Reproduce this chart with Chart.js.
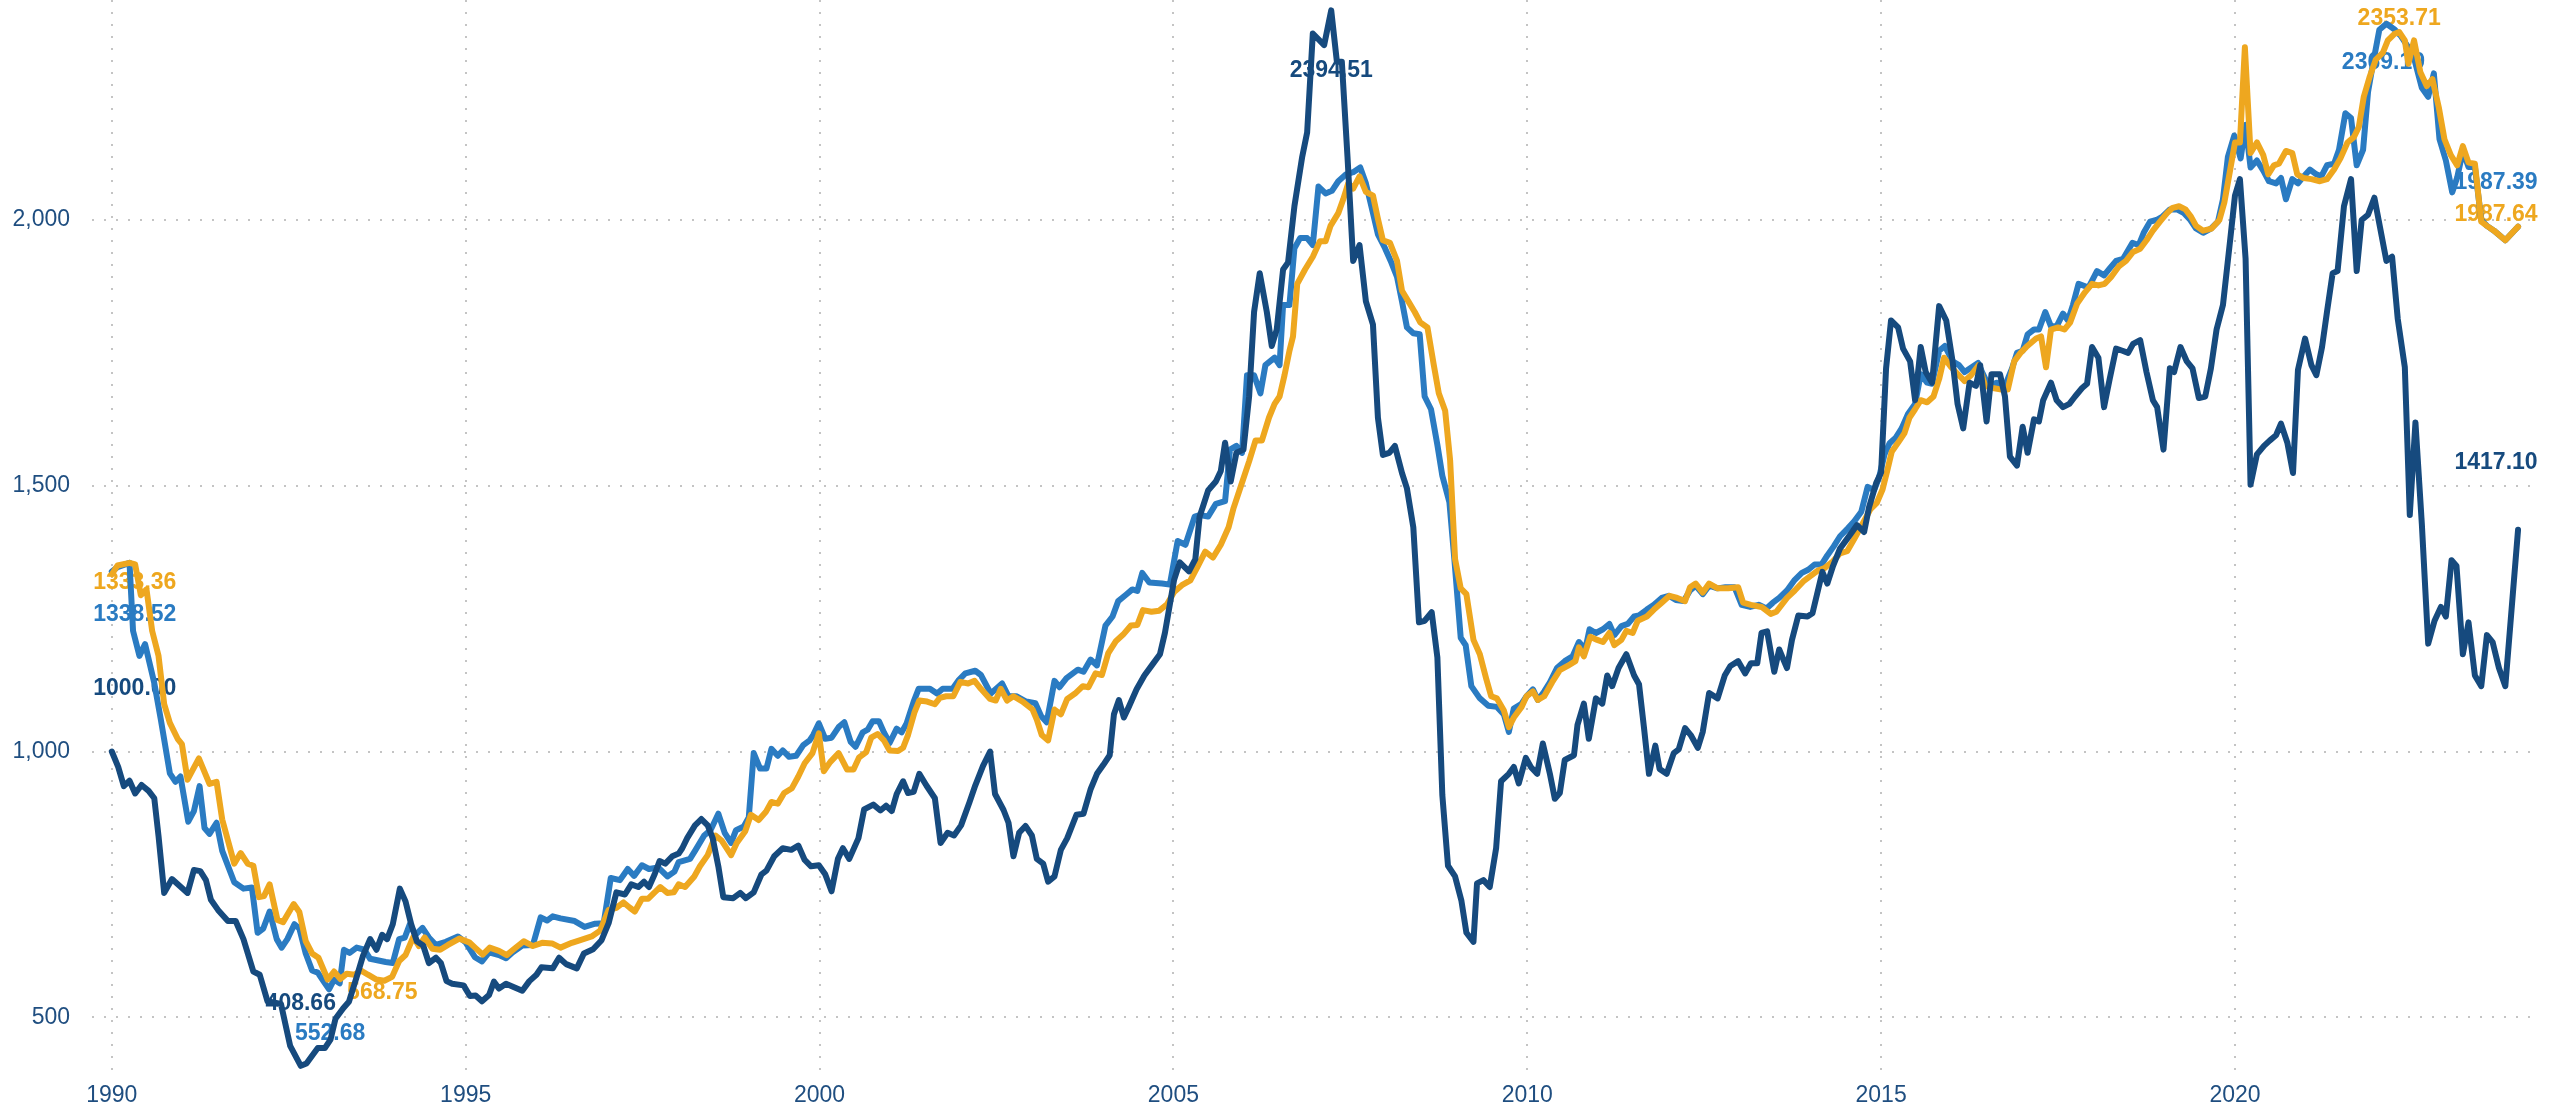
<!DOCTYPE html>
<html>
<head>
<meta charset="utf-8">
<script src="https://cdn.jsdelivr.net/npm/chart.js@4.4.1/dist/chart.umd.min.js"></script>
<style>
  html, body { margin: 0; padding: 0; background: #fff; }
  #wrap { width: 2562px; height: 1108px; }
</style>
</head>
<body>
<div id="wrap"><canvas id="chart"></canvas></div>
<script>
// tick labels
const xTicks = [1990, 1995, 2000, 2005, 2010, 2015, 2020];
const yTicks = [500, 1000, 1500, 2000];

// [year, value]
const darkBlue = [
  [1990.00, 1000.00], [1990.09, 971], [1990.17, 935], [1990.25, 945], [1990.33, 921], [1990.42, 937],
  [1990.52, 926], [1990.60, 912], [1990.66, 841], [1990.74, 734], [1990.85, 760], [1990.96, 747],
  [1991.07, 734], [1991.16, 777], [1991.25, 775], [1991.33, 758], [1991.40, 721], [1991.50, 702],
  [1991.64, 681], [1991.75, 681], [1991.86, 647], [1992.00, 586], [1992.09, 580], [1992.20, 530],
  [1992.39, 525], [1992.52, 446], [1992.67, 408.66], [1992.75, 413], [1992.91, 442], [1993.01, 442],
  [1993.09, 458], [1993.16, 497], [1993.27, 517], [1993.35, 529], [1993.46, 576], [1993.55, 616],
  [1993.65, 647], [1993.74, 627], [1993.82, 655], [1993.89, 647], [1993.97, 675], [1994.07, 742],
  [1994.15, 718], [1994.23, 675], [1994.31, 643], [1994.40, 635], [1994.48, 602], [1994.58, 612],
  [1994.65, 602], [1994.73, 568], [1994.81, 563], [1994.97, 560], [1995.06, 540], [1995.14, 541],
  [1995.23, 530], [1995.33, 542], [1995.40, 567], [1995.47, 554], [1995.57, 563], [1995.66, 558],
  [1995.80, 550], [1995.90, 568], [1996.00, 580], [1996.07, 594], [1996.23, 592], [1996.32, 612],
  [1996.42, 600], [1996.57, 592], [1996.67, 620], [1996.80, 628], [1996.92, 645], [1997.02, 677],
  [1997.13, 735], [1997.25, 731], [1997.34, 750], [1997.44, 745], [1997.52, 755], [1997.59, 745],
  [1997.67, 769], [1997.74, 794], [1997.82, 789], [1997.92, 803], [1998.01, 808], [1998.06, 818],
  [1998.13, 837], [1998.24, 861], [1998.33, 873], [1998.42, 861], [1998.49, 837], [1998.57, 784],
  [1998.64, 726], [1998.78, 724], [1998.88, 734], [1998.96, 724], [1999.07, 735], [1999.18, 769],
  [1999.25, 776], [1999.36, 803], [1999.48, 818], [1999.60, 815], [1999.70, 823], [1999.79, 796],
  [1999.88, 784], [1999.99, 786], [2000.08, 769], [2000.17, 737], [2000.26, 798], [2000.33, 818],
  [2000.42, 798], [2000.55, 837], [2000.63, 891], [2000.76, 900], [2000.86, 889], [2000.94, 898],
  [2001.02, 888], [2001.09, 920], [2001.18, 944], [2001.25, 922], [2001.33, 924], [2001.41, 958],
  [2001.51, 936], [2001.63, 912], [2001.71, 828], [2001.81, 847], [2001.90, 842], [2002.00, 861],
  [2002.12, 905], [2002.20, 936], [2002.31, 973], [2002.41, 1000], [2002.48, 920], [2002.60, 890],
  [2002.67, 866], [2002.74, 803], [2002.82, 847], [2002.91, 860], [2003.00, 842], [2003.07, 798],
  [2003.16, 789], [2003.23, 755], [2003.32, 765], [2003.41, 815], [2003.50, 837], [2003.63, 881],
  [2003.73, 883], [2003.83, 929], [2003.92, 958], [2004.01, 975], [2004.10, 993], [2004.16, 1070],
  [2004.23, 1097], [2004.30, 1064], [2004.37, 1084], [2004.48, 1117], [2004.59, 1143], [2004.70, 1163],
  [2004.81, 1183], [2004.88, 1223], [2004.94, 1269], [2005.01, 1323], [2005.09, 1356], [2005.22, 1339],
  [2005.31, 1362], [2005.37, 1442], [2005.42, 1462], [2005.49, 1491], [2005.60, 1508], [2005.67, 1528],
  [2005.73, 1581], [2005.81, 1508], [2005.89, 1562], [2005.99, 1568], [2006.07, 1668], [2006.14, 1827],
  [2006.22, 1900], [2006.32, 1827], [2006.39, 1763], [2006.46, 1794], [2006.55, 1907], [2006.62, 1920],
  [2006.71, 2026], [2006.82, 2119], [2006.89, 2165], [2006.97, 2351], [2007.13, 2329], [2007.23, 2394.51],
  [2007.31, 2298], [2007.38, 2298], [2007.46, 2119], [2007.54, 1923], [2007.63, 1953], [2007.72, 1847],
  [2007.82, 1803], [2007.89, 1628], [2007.96, 1558], [2008.05, 1562], [2008.13, 1575], [2008.23, 1524],
  [2008.30, 1495], [2008.39, 1422], [2008.47, 1243], [2008.55, 1246], [2008.65, 1262], [2008.73, 1177],
  [2008.80, 918], [2008.88, 785], [2008.98, 765], [2009.07, 719], [2009.14, 659], [2009.24, 642],
  [2009.29, 752], [2009.38, 758], [2009.47, 745], [2009.56, 818], [2009.63, 944], [2009.74, 958],
  [2009.81, 971], [2009.88, 940], [2009.98, 988], [2010.05, 971], [2010.14, 958], [2010.22, 1015],
  [2010.32, 958], [2010.39, 911], [2010.46, 922], [2010.53, 984], [2010.66, 993], [2010.71, 1050],
  [2010.80, 1090], [2010.87, 1024], [2010.97, 1100], [2011.06, 1090], [2011.13, 1143], [2011.20, 1123],
  [2011.29, 1157], [2011.40, 1183], [2011.51, 1143], [2011.58, 1126], [2011.65, 1044], [2011.72, 958],
  [2011.81, 1011], [2011.87, 967], [2011.97, 958], [2012.07, 997], [2012.14, 1004], [2012.23, 1044],
  [2012.31, 1031], [2012.41, 1007], [2012.48, 1037], [2012.57, 1110], [2012.69, 1100], [2012.79, 1143],
  [2012.87, 1161], [2012.98, 1170], [2013.08, 1147], [2013.16, 1166], [2013.25, 1166], [2013.31, 1223],
  [2013.39, 1226], [2013.49, 1150], [2013.56, 1192], [2013.67, 1157], [2013.74, 1210], [2013.83, 1256],
  [2013.96, 1254], [2014.03, 1260], [2014.10, 1299], [2014.17, 1338], [2014.24, 1316], [2014.32, 1349],
  [2014.42, 1382], [2014.53, 1402], [2014.66, 1426], [2014.76, 1413], [2014.83, 1460], [2014.93, 1505],
  [2015.00, 1525], [2015.07, 1721], [2015.14, 1811], [2015.24, 1798], [2015.31, 1758], [2015.41, 1734],
  [2015.48, 1661], [2015.56, 1761], [2015.63, 1714], [2015.72, 1694], [2015.82, 1838], [2015.92, 1811],
  [2016.01, 1734], [2016.08, 1654], [2016.16, 1608], [2016.25, 1694], [2016.34, 1688], [2016.40, 1727],
  [2016.49, 1621], [2016.56, 1710], [2016.68, 1710], [2016.75, 1668], [2016.82, 1555], [2016.92, 1538],
  [2017.00, 1611], [2017.07, 1562], [2017.16, 1625], [2017.23, 1621], [2017.29, 1661], [2017.40, 1694],
  [2017.48, 1661], [2017.57, 1648], [2017.66, 1654], [2017.74, 1668], [2017.84, 1684], [2017.91, 1692],
  [2017.98, 1761], [2018.07, 1741], [2018.15, 1648], [2018.23, 1701], [2018.32, 1758], [2018.41, 1754],
  [2018.49, 1750], [2018.56, 1767], [2018.66, 1774], [2018.75, 1714], [2018.84, 1661], [2018.90, 1648],
  [2018.99, 1568], [2019.08, 1721], [2019.14, 1714], [2019.23, 1761], [2019.32, 1734], [2019.40, 1721],
  [2019.49, 1665], [2019.58, 1668], [2019.66, 1721], [2019.74, 1794], [2019.83, 1840], [2019.93, 1960],
  [2020.00, 2046], [2020.07, 2077], [2020.15, 1927], [2020.22, 1502], [2020.31, 1559], [2020.41, 1575],
  [2020.49, 1585], [2020.58, 1595], [2020.65, 1617], [2020.74, 1581], [2020.82, 1524], [2020.89, 1718],
  [2020.99, 1777], [2021.08, 1727], [2021.15, 1708], [2021.23, 1761], [2021.30, 1827], [2021.38, 1900],
  [2021.45, 1904], [2021.54, 2026], [2021.64, 2077], [2021.72, 1904], [2021.79, 2000], [2021.88, 2010],
  [2021.97, 2042], [2022.05, 1986], [2022.14, 1923], [2022.22, 1931], [2022.30, 1814], [2022.40, 1723],
  [2022.47, 1445], [2022.55, 1619], [2022.64, 1429], [2022.73, 1203], [2022.82, 1246], [2022.91, 1272],
  [2022.98, 1254], [2023.06, 1360], [2023.13, 1349], [2023.22, 1183], [2023.30, 1243], [2023.39, 1143],
  [2023.48, 1123], [2023.56, 1219], [2023.64, 1206], [2023.73, 1157], [2023.82, 1123], [2024.00, 1417.10]
];

const lightBlue = [
  [1990.00, 1338.52], [1990.08, 1347], [1990.25, 1355], [1990.30, 1227], [1990.39, 1180], [1990.47, 1202],
  [1990.60, 1129], [1990.69, 1062], [1990.82, 959], [1990.90, 943], [1990.97, 953], [1991.08, 868],
  [1991.16, 888], [1991.24, 935], [1991.31, 856], [1991.38, 845], [1991.48, 866], [1991.56, 813],
  [1991.73, 754], [1991.86, 742], [1991.98, 744], [1992.06, 659], [1992.14, 667], [1992.23, 699],
  [1992.33, 647], [1992.40, 631], [1992.48, 647], [1992.58, 675], [1992.65, 667], [1992.74, 620],
  [1992.83, 588], [1992.91, 584], [1992.99, 568], [1993.07, 552.68], [1993.14, 571], [1993.22, 564],
  [1993.28, 627], [1993.36, 621], [1993.46, 631], [1993.57, 627], [1993.65, 610], [1993.87, 604],
  [1993.97, 602], [1994.06, 647], [1994.14, 650], [1994.21, 675], [1994.29, 655], [1994.39, 668],
  [1994.48, 650], [1994.58, 636], [1994.72, 642], [1994.89, 652], [1995.00, 641], [1995.13, 613],
  [1995.23, 605], [1995.33, 622], [1995.47, 617], [1995.57, 611], [1995.66, 622], [1995.80, 635],
  [1995.95, 636], [1996.06, 688], [1996.15, 682], [1996.23, 690], [1996.34, 686], [1996.54, 681],
  [1996.68, 670], [1996.83, 676], [1996.95, 677], [1997.05, 762], [1997.18, 758], [1997.29, 779],
  [1997.38, 766], [1997.49, 786], [1997.59, 779], [1997.72, 782], [1997.85, 765], [1997.95, 774],
  [1998.01, 792], [1998.17, 798], [1998.24, 813], [1998.37, 842], [1998.46, 852], [1998.57, 883],
  [1998.66, 847], [1998.75, 828], [1998.82, 852], [1998.93, 859], [1999.00, 876], [1999.07, 997],
  [1999.16, 968], [1999.25, 968], [1999.32, 1005], [1999.41, 992], [1999.48, 1002], [1999.57, 990],
  [1999.67, 992], [1999.77, 1012], [1999.86, 1021], [1999.91, 1031], [1999.99, 1053], [2000.08, 1024],
  [2000.17, 1026], [2000.27, 1046], [2000.35, 1055], [2000.44, 1018], [2000.51, 1009], [2000.61, 1036],
  [2000.68, 1041], [2000.75, 1057], [2000.84, 1057], [2000.91, 1036], [2000.99, 1016], [2001.09, 1043],
  [2001.16, 1036], [2001.23, 1053], [2001.33, 1094], [2001.40, 1118], [2001.56, 1118], [2001.66, 1109],
  [2001.74, 1118], [2001.88, 1118], [2001.97, 1135], [2002.06, 1147], [2002.20, 1152], [2002.28, 1144],
  [2002.42, 1109], [2002.58, 1128], [2002.67, 1104], [2002.78, 1104], [2002.92, 1094], [2003.05, 1091],
  [2003.13, 1067], [2003.21, 1055], [2003.32, 1133], [2003.39, 1121], [2003.49, 1138], [2003.65, 1154],
  [2003.73, 1150], [2003.83, 1173], [2003.92, 1162], [2004.04, 1237], [2004.14, 1254], [2004.22, 1283],
  [2004.33, 1295], [2004.42, 1305], [2004.49, 1302], [2004.56, 1336], [2004.66, 1318], [2004.84, 1316],
  [2004.95, 1314], [2005.06, 1396], [2005.17, 1389], [2005.30, 1442], [2005.38, 1445], [2005.49, 1442],
  [2005.60, 1466], [2005.73, 1471], [2005.80, 1568], [2005.89, 1575], [2005.97, 1562], [2006.04, 1708],
  [2006.14, 1708], [2006.23, 1674], [2006.30, 1727], [2006.43, 1741], [2006.50, 1727], [2006.55, 1840],
  [2006.64, 1840], [2006.71, 1947], [2006.79, 1966], [2006.89, 1966], [2006.97, 1953], [2007.05, 2063],
  [2007.15, 2050], [2007.24, 2055], [2007.33, 2073], [2007.44, 2086], [2007.54, 2090], [2007.64, 2099],
  [2007.72, 2069], [2007.81, 2019], [2007.89, 1973], [2007.99, 1947], [2008.08, 1920], [2008.16, 1893],
  [2008.23, 1847], [2008.30, 1798], [2008.39, 1787], [2008.48, 1785], [2008.55, 1668], [2008.64, 1644],
  [2008.73, 1577], [2008.80, 1519], [2008.90, 1469], [2008.97, 1362], [2009.06, 1214], [2009.13, 1200],
  [2009.21, 1123], [2009.33, 1100], [2009.45, 1086], [2009.57, 1084], [2009.67, 1070], [2009.74, 1037],
  [2009.81, 1081], [2009.92, 1090], [2009.99, 1104], [2010.08, 1117], [2010.15, 1097], [2010.24, 1113],
  [2010.32, 1130], [2010.42, 1157], [2010.53, 1170], [2010.64, 1179], [2010.73, 1206], [2010.82, 1192],
  [2010.88, 1230], [2010.97, 1223], [2011.07, 1230], [2011.16, 1240], [2011.23, 1219], [2011.33, 1236],
  [2011.42, 1240], [2011.51, 1254], [2011.58, 1256], [2011.69, 1267], [2011.79, 1276], [2011.90, 1289],
  [2012.00, 1293], [2012.10, 1285], [2012.21, 1283], [2012.30, 1303], [2012.38, 1312], [2012.48, 1296],
  [2012.57, 1312], [2012.69, 1307], [2012.80, 1309], [2012.93, 1309], [2013.03, 1276], [2013.15, 1272],
  [2013.27, 1276], [2013.38, 1269], [2013.47, 1280], [2013.56, 1289], [2013.67, 1303], [2013.78, 1323],
  [2013.88, 1336], [2013.97, 1342], [2014.06, 1352], [2014.16, 1352], [2014.24, 1369], [2014.33, 1386],
  [2014.42, 1405], [2014.53, 1420], [2014.62, 1433], [2014.72, 1451], [2014.81, 1498], [2014.90, 1492],
  [2014.97, 1515], [2015.05, 1560], [2015.12, 1580], [2015.21, 1591], [2015.29, 1608], [2015.38, 1635],
  [2015.48, 1654], [2015.56, 1710], [2015.65, 1694], [2015.72, 1692], [2015.82, 1754], [2015.90, 1763],
  [2016.01, 1734], [2016.10, 1727], [2016.18, 1714], [2016.37, 1731], [2016.44, 1710], [2016.52, 1688],
  [2016.64, 1694], [2016.75, 1688], [2016.85, 1721], [2016.92, 1750], [2017.00, 1754], [2017.07, 1785],
  [2017.16, 1794], [2017.23, 1794], [2017.32, 1827], [2017.40, 1800], [2017.48, 1800], [2017.57, 1824],
  [2017.64, 1811], [2017.71, 1840], [2017.79, 1880], [2017.93, 1873], [2018.05, 1904], [2018.15, 1896],
  [2018.23, 1909], [2018.32, 1923], [2018.42, 1927], [2018.55, 1957], [2018.64, 1953], [2018.71, 1976],
  [2018.80, 1997], [2018.89, 2000], [2018.97, 2006], [2019.08, 2020], [2019.18, 2020], [2019.28, 2013],
  [2019.37, 2000], [2019.45, 1984], [2019.55, 1976], [2019.66, 1984], [2019.76, 1997], [2019.83, 2039],
  [2019.90, 2119], [2019.99, 2159], [2020.08, 2116], [2020.15, 2179], [2020.22, 2099], [2020.31, 2112],
  [2020.40, 2093], [2020.48, 2073], [2020.58, 2069], [2020.65, 2079], [2020.72, 2039], [2020.81, 2077],
  [2020.89, 2069], [2020.97, 2082], [2021.06, 2095], [2021.15, 2086], [2021.22, 2082], [2021.30, 2103],
  [2021.40, 2106], [2021.47, 2132], [2021.56, 2201], [2021.64, 2192], [2021.72, 2103], [2021.81, 2132],
  [2021.88, 2241], [2021.95, 2294], [2022.04, 2358], [2022.14, 2369.19], [2022.26, 2358], [2022.34, 2347],
  [2022.45, 2325], [2022.53, 2305], [2022.64, 2249], [2022.73, 2232], [2022.81, 2276], [2022.89, 2152],
  [2022.98, 2112], [2023.07, 2052], [2023.14, 2080], [2023.22, 2130], [2023.30, 2100], [2023.39, 2100],
  [2023.48, 2000], [2023.56, 1989], [2023.66, 1980], [2023.82, 1962], [2024.00, 1987.39]
];

const orange = [
  [1990.00, 1333.36], [1990.08, 1350], [1990.25, 1355], [1990.33, 1352], [1990.41, 1294], [1990.49, 1305],
  [1990.57, 1227], [1990.66, 1180], [1990.74, 1089], [1990.82, 1054], [1990.93, 1024], [1990.99, 1014],
  [1991.07, 947], [1991.23, 987], [1991.38, 939], [1991.48, 943], [1991.56, 872], [1991.64, 833],
  [1991.73, 789], [1991.82, 809], [1991.92, 789], [1992.00, 785], [1992.08, 726], [1992.15, 728],
  [1992.23, 750], [1992.34, 683], [1992.42, 679], [1992.57, 713], [1992.65, 698], [1992.74, 643],
  [1992.83, 620], [1992.92, 612], [1993.05, 571], [1993.14, 586], [1993.23, 572], [1993.32, 582],
  [1993.43, 580], [1993.52, 588], [1993.62, 580], [1993.74, 571], [1993.85, 568.75], [1993.96, 576],
  [1994.06, 606], [1994.15, 617], [1994.26, 651], [1994.34, 634], [1994.42, 650], [1994.53, 629],
  [1994.64, 627], [1994.75, 636], [1994.91, 648], [1995.05, 641], [1995.14, 630], [1995.24, 618],
  [1995.34, 631], [1995.47, 625], [1995.58, 617], [1995.67, 627], [1995.82, 643], [1995.95, 634],
  [1996.08, 640], [1996.22, 639], [1996.34, 631], [1996.50, 640], [1996.62, 645], [1996.78, 652],
  [1996.90, 663], [1997.02, 702], [1997.13, 706], [1997.23, 716], [1997.32, 706], [1997.39, 699],
  [1997.49, 723], [1997.58, 723], [1997.67, 735], [1997.75, 745], [1997.85, 734], [1997.94, 735],
  [1998.01, 750], [1998.10, 745], [1998.23, 765], [1998.31, 784], [1998.42, 805], [1998.53, 842],
  [1998.62, 832], [1998.75, 805], [1998.83, 828], [1998.95, 850], [1999.03, 881], [1999.14, 871],
  [1999.24, 886], [1999.32, 905], [1999.41, 902], [1999.50, 922], [1999.61, 931], [1999.70, 953],
  [1999.79, 978], [1999.90, 997], [1999.99, 1034], [2000.06, 963], [2000.15, 980], [2000.27, 997],
  [2000.39, 966], [2000.48, 966], [2000.56, 989], [2000.66, 999], [2000.73, 1026], [2000.82, 1033],
  [2000.91, 1021], [2000.99, 1002], [2001.11, 1001], [2001.18, 1007], [2001.25, 1031], [2001.34, 1073],
  [2001.41, 1096], [2001.52, 1094], [2001.63, 1089], [2001.70, 1101], [2001.79, 1104], [2001.89, 1104],
  [2001.99, 1131], [2002.10, 1128], [2002.19, 1133], [2002.28, 1118], [2002.41, 1099], [2002.49, 1096],
  [2002.56, 1118], [2002.65, 1096], [2002.74, 1104], [2002.87, 1094], [2003.01, 1079], [2003.07, 1060],
  [2003.14, 1031], [2003.23, 1021], [2003.32, 1079], [2003.41, 1070], [2003.50, 1099], [2003.61, 1109],
  [2003.72, 1123], [2003.80, 1121], [2003.90, 1147], [2003.99, 1144], [2004.08, 1185], [2004.19, 1208],
  [2004.29, 1220], [2004.40, 1237], [2004.49, 1238], [2004.57, 1266], [2004.69, 1263], [2004.80, 1265],
  [2004.91, 1277], [2005.01, 1300], [2005.12, 1313], [2005.24, 1322], [2005.35, 1350], [2005.45, 1376],
  [2005.56, 1365], [2005.67, 1389], [2005.78, 1422], [2005.85, 1458], [2005.96, 1502], [2006.07, 1546],
  [2006.16, 1585], [2006.25, 1585], [2006.35, 1628], [2006.43, 1654], [2006.50, 1668], [2006.57, 1708],
  [2006.64, 1754], [2006.69, 1781], [2006.75, 1880], [2006.86, 1907], [2006.97, 1931], [2007.07, 1960],
  [2007.15, 1960], [2007.22, 1989], [2007.33, 2013], [2007.40, 2039], [2007.47, 2069], [2007.54, 2059],
  [2007.63, 2082], [2007.72, 2053], [2007.82, 2046], [2007.89, 2002], [2007.96, 1962], [2008.06, 1957],
  [2008.16, 1923], [2008.23, 1867], [2008.32, 1847], [2008.41, 1827], [2008.49, 1807], [2008.59, 1798],
  [2008.68, 1727], [2008.75, 1674], [2008.84, 1641], [2008.91, 1548], [2008.98, 1362], [2009.06, 1307],
  [2009.14, 1296], [2009.24, 1210], [2009.33, 1183], [2009.42, 1137], [2009.49, 1104], [2009.57, 1100],
  [2009.67, 1077], [2009.74, 1046], [2009.81, 1064], [2009.92, 1084], [2009.99, 1104], [2010.08, 1113],
  [2010.15, 1097], [2010.24, 1104], [2010.35, 1130], [2010.46, 1153], [2010.57, 1161], [2010.68, 1170],
  [2010.73, 1196], [2010.80, 1179], [2010.89, 1216], [2010.99, 1210], [2011.07, 1206], [2011.16, 1223],
  [2011.23, 1200], [2011.33, 1210], [2011.40, 1227], [2011.49, 1223], [2011.56, 1246], [2011.69, 1254],
  [2011.79, 1267], [2011.90, 1280], [2012.01, 1293], [2012.12, 1289], [2012.23, 1283], [2012.30, 1309],
  [2012.38, 1316], [2012.48, 1299], [2012.57, 1316], [2012.69, 1307], [2012.84, 1307], [2012.98, 1309],
  [2013.05, 1280], [2013.16, 1276], [2013.31, 1272], [2013.44, 1259], [2013.52, 1263], [2013.67, 1289],
  [2013.78, 1303], [2013.90, 1320], [2013.99, 1329], [2014.10, 1340], [2014.20, 1345], [2014.32, 1358],
  [2014.42, 1373], [2014.52, 1377], [2014.62, 1400], [2014.74, 1429], [2014.85, 1456], [2014.94, 1468],
  [2015.02, 1493], [2015.09, 1530], [2015.15, 1564], [2015.26, 1585], [2015.33, 1599], [2015.40, 1628],
  [2015.48, 1644], [2015.56, 1661], [2015.65, 1657], [2015.74, 1668], [2015.82, 1701], [2015.89, 1741],
  [2015.99, 1723], [2016.10, 1708], [2016.18, 1697], [2016.27, 1708], [2016.38, 1727], [2016.47, 1688],
  [2016.58, 1684], [2016.70, 1681], [2016.79, 1681], [2016.88, 1734], [2016.97, 1750], [2017.05, 1761],
  [2017.19, 1777], [2017.26, 1781], [2017.33, 1723], [2017.40, 1794], [2017.50, 1798], [2017.59, 1794],
  [2017.67, 1807], [2017.77, 1843], [2017.88, 1864], [2017.98, 1880], [2018.07, 1877], [2018.16, 1880],
  [2018.25, 1893], [2018.36, 1913], [2018.46, 1923], [2018.56, 1940], [2018.66, 1946], [2018.75, 1962],
  [2018.84, 1980], [2018.94, 1997], [2019.04, 2013], [2019.12, 2023], [2019.21, 2026], [2019.30, 2020],
  [2019.38, 2006], [2019.45, 1989], [2019.55, 1980], [2019.67, 1984], [2019.78, 2000], [2019.85, 2033],
  [2019.93, 2093], [2020.00, 2146], [2020.07, 2146], [2020.14, 2325], [2020.22, 2126], [2020.31, 2146],
  [2020.40, 2122], [2020.47, 2086], [2020.55, 2103], [2020.62, 2106], [2020.72, 2130], [2020.81, 2126],
  [2020.88, 2086], [2020.97, 2079], [2021.08, 2077], [2021.20, 2073], [2021.30, 2077], [2021.40, 2095],
  [2021.49, 2116], [2021.59, 2146], [2021.68, 2156], [2021.75, 2175], [2021.82, 2232], [2021.90, 2268],
  [2021.99, 2302], [2022.09, 2315], [2022.16, 2338], [2022.25, 2350], [2022.32, 2353.71], [2022.40, 2338],
  [2022.45, 2294], [2022.53, 2338], [2022.62, 2278], [2022.71, 2252], [2022.79, 2265], [2022.88, 2212],
  [2022.96, 2152], [2023.05, 2122], [2023.14, 2103], [2023.22, 2139], [2023.30, 2108], [2023.39, 2106],
  [2023.48, 1997], [2023.56, 1989], [2023.66, 1980], [2023.82, 1962], [2024.00, 1987.64]
];

const toPoints = rows => rows.map(r => ({ x: r[0], y: r[1] }));
const fontFamily = '"Liberation Sans", Arial, sans-serif';

// value labels at first / min / max / last point of each line
const labelSpots = [
  { set: 0, pick: 'first', dx: 23, dy: -63 },
  { set: 0, pick: 'min', dx: 0, dy: -62 },
  { set: 0, pick: 'max', dx: 0, dy: 60 },
  { set: 0, pick: 'last', dx: -22, dy: -67 },
  { set: 1, pick: 'first', dx: 23, dy: 8 },
  { set: 1, pick: 'min', dx: -2, dy: 12 },
  { set: 1, pick: 'max', dx: 0, dy: -13 },
  { set: 1, pick: 'last', dx: -22, dy: -12 },
  { set: 2, pick: 'first', dx: 23, dy: 43 },
  { set: 2, pick: 'min', dx: 1, dy: 44 },
  { set: 2, pick: 'max', dx: -3, dy: 39 },
  { set: 2, pick: 'last', dx: -22, dy: -44 }
];

const pointLabels = {
  id: 'pointLabels',
  beforeDatasetsDraw(chart) {
    const ctx = chart.ctx;
    ctx.save();
    ctx.font = 'bold 23px ' + fontFamily;
    ctx.textAlign = 'center';
    ctx.textBaseline = 'middle';
    labelSpots.forEach(s => {
      const ds = chart.data.datasets[s.set];
      const pts = ds.data;
      let i = 0;
      if (s.pick === 'last') i = pts.length - 1;
      if (s.pick === 'min') i = pts.reduce((b, p, k) => (p.y < pts[b].y ? k : b), 0);
      if (s.pick === 'max') i = pts.reduce((b, p, k) => (p.y > pts[b].y ? k : b), 0);
      const el = chart.getDatasetMeta(s.set).data[i];
      ctx.fillStyle = ds.borderColor;
      ctx.fillText(pts[i].y.toFixed(2), el.x + s.dx, el.y + s.dy);
    });
    ctx.restore();
  }
};

const lineStyle = {
  borderWidth: 6,
  pointRadius: 0,
  tension: 0,
  fill: false,
  borderJoinStyle: 'round',
  borderCapStyle: 'round'
};

const ctx = document.getElementById('chart');

new Chart(ctx, {
  type: 'line',
  data: {
    datasets: [
      { ...lineStyle, label: 'dark', data: toPoints(darkBlue), borderColor: '#164a7e' },
      { ...lineStyle, label: 'orange', data: toPoints(orange), borderColor: '#eea71f' },
      { ...lineStyle, label: 'light', data: toPoints(lightBlue), borderColor: '#2a7bc2' }
    ]
  },
  options: {
    responsive: true,
    maintainAspectRatio: false,
    animation: false,
    layout: { padding: { left: 0, right: 22, top: 0, bottom: 0 } },
    plugins: {
      legend: { display: false },
      tooltip: { enabled: false }
    },
    scales: {
      x: {
        type: 'linear',
        min: 1989.72,
        max: 2024.31,
        afterBuildTicks: axis => { axis.ticks = xTicks.map(v => ({ value: v })); },
        afterFit: axis => {
          axis.height = 36;
          axis.paddingLeft = 0;
          axis.paddingRight = 0;
        },
        ticks: {
          autoSkip: false,
          maxRotation: 0,
          padding: 10,
          color: '#1f4e80',
          font: { family: fontFamily, size: 23 },
          callback: v => String(v)
        },
        grid: { color: '#c4c4c4', lineWidth: 2, drawTicks: false },
        border: { display: false, dash: [2, 10] }
      },
      y: {
        min: 397,
        max: 2414,
        afterBuildTicks: axis => { axis.ticks = yTicks.map(v => ({ value: v })); },
        afterFit: axis => {
          axis.width = 92;
          axis.paddingTop = 0;
          axis.paddingBottom = 0;
        },
        ticks: {
          padding: 22,
          color: '#1f4e80',
          font: { family: fontFamily, size: 23 },
          callback: v => v.toLocaleString('en-US')
        },
        grid: { color: '#c4c4c4', lineWidth: 2, drawTicks: false },
        border: { display: false, dash: [2, 10] }
      }
    }
  },
  plugins: [pointLabels]
});
</script>
</body>
</html>
